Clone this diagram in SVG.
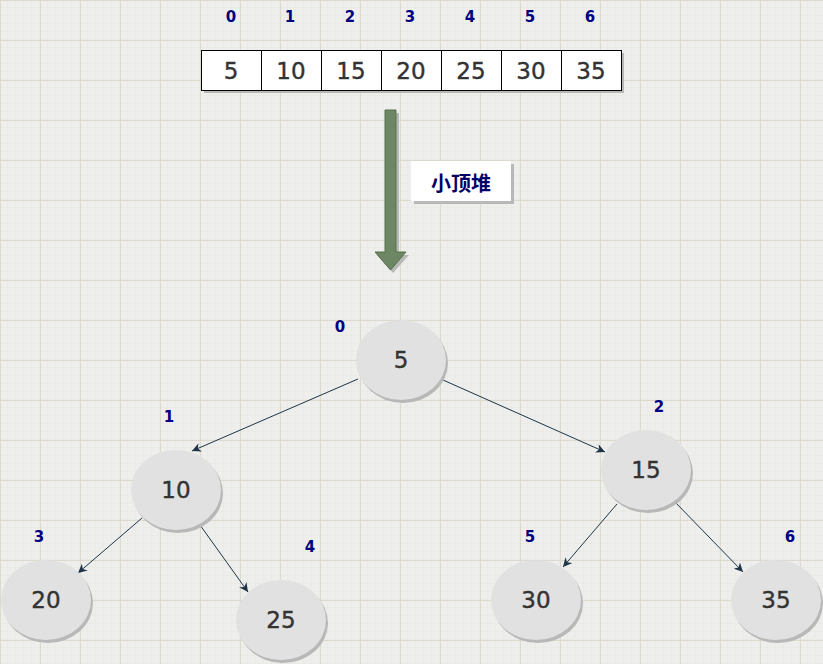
<svg xmlns="http://www.w3.org/2000/svg" width="823" height="664" viewBox="0 0 823 664">
<defs>
<pattern id="minor" width="8" height="8" patternUnits="userSpaceOnUse">
<path d="M8 0V8M0 8H8" fill="none" stroke="#e7e6e0" stroke-width="1"/>
</pattern>
<pattern id="major" width="40" height="40" patternUnits="userSpaceOnUse">
<rect width="40" height="40" fill="url(#minor)"/>
<path d="M0.5 0V40M0 0.5H40" fill="none" stroke="#dddacd" stroke-width="1"/>
</pattern>
<marker id="ah" viewBox="0 0 10 10" refX="10" refY="5" markerWidth="9" markerHeight="9" orient="auto" markerUnits="userSpaceOnUse">
<path d="M0 0L10 5L0 10L3 5Z" fill="#1e3547"/>
</marker>
</defs>
<style>
.idx{font-family:"DejaVu Sans","Liberation Sans",sans-serif;font-size:15px;font-weight:bold;fill:#000080;text-anchor:middle}
.cell{fill:#ffffff;stroke:#000000;stroke-width:1}
.val{font-family:"DejaVu Sans","Liberation Sans",sans-serif;font-size:23px;fill:#333333;text-anchor:middle;dominant-baseline:central;stroke:#333333;stroke-width:0.4}
.node{fill:#e1e1e1}
.shadow{fill:#b8b8b8}
.edge{stroke:#1e3547;stroke-width:1;fill:none;marker-end:url(#ah)}
</style>
<rect width="823" height="664" fill="#eeeeec"/>
<rect width="823" height="664" fill="url(#major)"/>

<g id="indices">
<text class="idx" x="231" y="22">0</text>
<text class="idx" x="290" y="22">1</text>
<text class="idx" x="350" y="22">2</text>
<text class="idx" x="410" y="22">3</text>
<text class="idx" x="470" y="22">4</text>
<text class="idx" x="530" y="22">5</text>
<text class="idx" x="590" y="22">6</text>
</g>

<g id="array">
<rect x="204" y="53" width="420" height="40" fill="#b8b8b8"/>
<rect class="cell" x="201.5" y="50.5" width="60" height="40"/>
<rect class="cell" x="261.5" y="50.5" width="60" height="40"/>
<rect class="cell" x="321.5" y="50.5" width="60" height="40"/>
<rect class="cell" x="381.5" y="50.5" width="60" height="40"/>
<rect class="cell" x="441.5" y="50.5" width="60" height="40"/>
<rect class="cell" x="501.5" y="50.5" width="60" height="40"/>
<rect class="cell" x="561.5" y="50.5" width="60" height="40"/>
<text class="val" x="231" y="71">5</text>
<text class="val" x="291" y="71">10</text>
<text class="val" x="351" y="71">15</text>
<text class="val" x="411" y="71">20</text>
<text class="val" x="471" y="71">25</text>
<text class="val" x="531" y="71">30</text>
<text class="val" x="591" y="71">35</text>
</g>

<g id="big-arrow">
<path d="M388 113H399V255H409L393 273L377 255H388Z" fill="#b8b8b8"/>
<path d="M385 110H396V252H406L390.5 270L375 252H385Z" fill="#6d8764" stroke="#56704d" stroke-width="1"/>
</g>

<g id="label">
<rect x="414" y="164" width="100" height="40" fill="#b8b8b8"/>
<rect x="411" y="161" width="100" height="40" fill="#ffffff"/>
<text x="461" y="182" font-family="'Noto Sans CJK SC',sans-serif" font-size="20" font-weight="bold" fill="#000066" text-anchor="middle" dominant-baseline="central">小顶堆</text>
</g>

<g id="connectors">
<line class="edge" x1="358" y1="379" x2="192" y2="451"/>
<line class="edge" x1="443" y1="380" x2="605" y2="452"/>
<line class="edge" x1="142" y1="518" x2="78" y2="573"/>
<line class="edge" x1="200" y1="525" x2="248" y2="592"/>
<line class="edge" x1="617" y1="504" x2="563" y2="567"/>
<line class="edge" x1="675" y1="502" x2="743" y2="572"/>
</g>

<g id="n0">
<ellipse class="shadow" cx="403" cy="363" rx="45" ry="40"/>
<ellipse class="node" cx="401" cy="360" rx="45" ry="40"/>
<text class="val" x="401" y="360">5</text>
<text class="idx" x="340" y="332">0</text>
</g>
<g id="n1">
<ellipse class="shadow" cx="178" cy="493" rx="45" ry="40"/>
<ellipse class="node" cx="176" cy="490" rx="45" ry="40"/>
<text class="val" x="176" y="490">10</text>
<text class="idx" x="169" y="422">1</text>
</g>
<g id="n2">
<ellipse class="shadow" cx="648" cy="473" rx="45" ry="40"/>
<ellipse class="node" cx="646" cy="470" rx="45" ry="40"/>
<text class="val" x="646" y="470">15</text>
<text class="idx" x="659" y="412">2</text>
</g>
<g id="n3">
<ellipse class="shadow" cx="48" cy="603" rx="45" ry="40"/>
<ellipse class="node" cx="46" cy="600" rx="45" ry="40"/>
<text class="val" x="46" y="600">20</text>
<text class="idx" x="39" y="542">3</text>
</g>
<g id="n4">
<ellipse class="shadow" cx="283" cy="623" rx="45" ry="40"/>
<ellipse class="node" cx="281" cy="620" rx="45" ry="40"/>
<text class="val" x="281" y="620">25</text>
<text class="idx" x="310" y="552">4</text>
</g>
<g id="n5">
<ellipse class="shadow" cx="538" cy="603" rx="45" ry="40"/>
<ellipse class="node" cx="536" cy="600" rx="45" ry="40"/>
<text class="val" x="536" y="600">30</text>
<text class="idx" x="530" y="542">5</text>
</g>
<g id="n6">
<ellipse class="shadow" cx="778" cy="603" rx="45" ry="40"/>
<ellipse class="node" cx="776" cy="600" rx="45" ry="40"/>
<text class="val" x="776" y="600">35</text>
<text class="idx" x="790" y="542">6</text>
</g>
</svg>
